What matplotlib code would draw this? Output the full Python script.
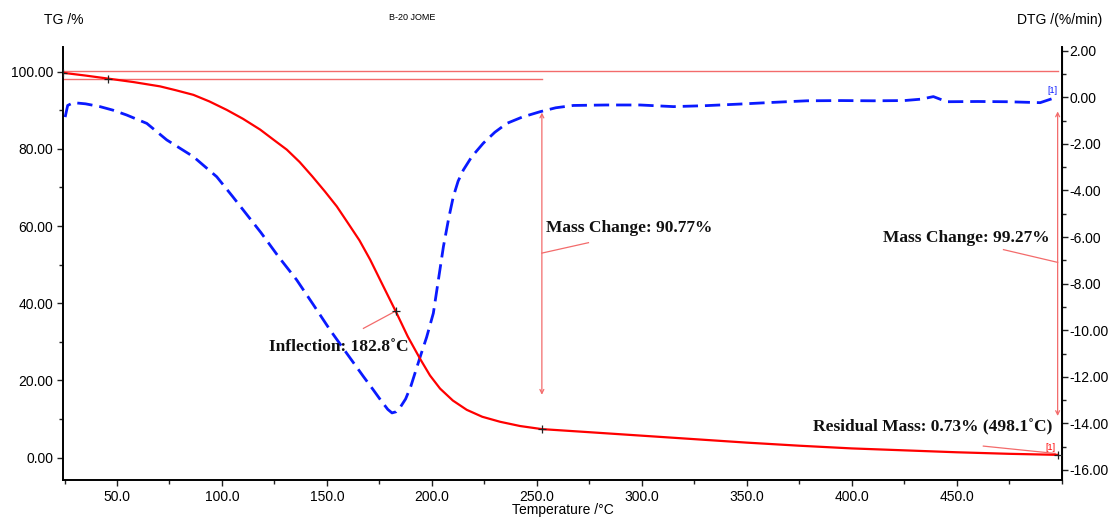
import numpy as np
import matplotlib.pyplot as plt
from matplotlib.ticker import MultipleLocator, FormatStrFormatter

# ------- TG curve (mass %, left axis) -------
tg_temp = [24.5, 35.0, 45.9, 58.0, 70.5, 78.0, 86.4, 94.0, 102.3, 110.0, 118.2, 125.0,
           130.9, 137.0, 143.0, 149.0, 154.7, 160.0, 165.5, 170.6, 176.5, 182.8, 188.5,
           194.4, 199.1, 203.9, 210.0, 216.6, 224.0, 232.5, 242.0, 252.4, 275.0, 300.0,
           325.0, 350.0, 375.0, 400.0, 425.0, 450.0, 475.0, 498.1]
tg_mass = [99.7, 99.0, 98.2, 97.3, 96.2, 95.2, 94.0, 92.3, 90.1, 87.8, 85.0, 82.2,
           79.8, 76.6, 72.9, 69.0, 65.1, 60.8, 56.3, 51.3, 44.8, 37.9, 31.4,
           25.6, 21.3, 17.9, 14.8, 12.4, 10.6, 9.3, 8.2, 7.4, 6.6, 5.7,
           4.8, 3.9, 3.1, 2.4, 1.9, 1.4, 1.0, 0.73]

# ------- DTG curve (%/min, right axis) -------
dtg_temp = [25.3, 26.5, 29.2, 35.0, 41.9, 48.0, 54.6, 64.2, 73.7, 86.4, 97.5, 105.0, 118.5,
            127.0, 135.6, 143.5, 151.5, 159.5, 167.4, 172.0, 176.0, 179.0, 181.0, 183.0,
            185.0, 187.5, 190.0, 194.4, 197.5, 200.7, 203.0, 205.5, 208.0, 210.2, 212.5,
            215.0, 219.0, 224.5, 230.0, 235.7, 243.0, 251.5, 259.0, 267.4, 283.0, 299.2,
            315.1, 330.0, 346.8, 362.0, 378.6, 395.0, 410.3, 425.0, 433.0, 438.9, 445.3,
            460.0, 473.9, 489.8, 496.1]
dtg_rate = [-0.85, -0.35, -0.23, -0.28, -0.40, -0.55, -0.76, -1.12, -1.83, -2.55, -3.41, -4.25, -5.80,
            -6.85, -7.84, -8.90, -9.99, -11.00, -11.99, -12.55, -13.05, -13.40, -13.55, -13.50,
            -13.30, -12.95, -12.40, -11.15, -10.30, -9.27, -7.90, -6.41, -5.20, -4.27, -3.60,
            -3.12, -2.55, -1.97, -1.50, -1.12, -0.85, -0.62, -0.45, -0.35, -0.33, -0.33,
            -0.40, -0.36, -0.29, -0.22, -0.15, -0.14, -0.15, -0.14, -0.08, 0.03, -0.19,
            -0.18, -0.19, -0.23, -0.04]

# marked points on the TG curve
mark_temp = [24.5, 45.9, 182.8, 252.4, 498.1]
mark_mass = [99.7, 98.2, 37.9, 7.4, 0.73]

inflection_temp = 182.8
step_temp = 252.4
end_temp = 498.1
mass_change_1 = 90.77
mass_change_2 = 99.27
residual_mass = 0.73

red = '#ff0000'
light_red = '#f36b6b'
blue = '#0a1aff'

plt.rcParams['font.family'] = ['Liberation Sans', 'DejaVu Sans']

fig = plt.figure(figsize=(11.1, 5.17), dpi=100)
ax = fig.add_axes([0.0568, 0.0716, 0.9, 0.8375])
ax2 = ax.twinx()

ax.set_xlim(24.3, 500.2)
ax.set_ylim(-5.78, 106.4)
ax2.set_ylim(-16.43, 2.16)

# DTG first so TG sits on top
ax2.plot(dtg_temp, dtg_rate, color=blue, lw=2.0, ls=(0, (5.5, 2.5)))
ax.plot(tg_temp, tg_mass, color=red, lw=1.6, zorder=3)
ax.plot(mark_temp, mark_mass, ls='none', marker='+', color='#222222', ms=6, mew=0.9, zorder=4)

ax.set_zorder(ax2.get_zorder() + 1)
ax.patch.set_visible(False)

# baselines
ax.plot([24.3, end_temp], [100.1, 100.1], color=light_red, lw=1.0)
ax.plot([24.3, step_temp], [98.2, 98.2], color=light_red, lw=1.0)

arrow = dict(arrowstyle='<->', color=light_red, lw=0.9, shrinkA=0, shrinkB=0,
             mutation_scale=7)
ax.annotate('', xy=(step_temp, 89.4), xytext=(step_temp, 16.3), arrowprops=arrow)
ax.annotate('', xy=(end_temp, 89.7), xytext=(end_temp, 10.8), arrowprops=arrow)

lead = dict(color=light_red, lw=0.9)
ax.plot([step_temp, 274.6], [53.0, 55.7], **lead)
ax.plot([472.3, end_temp], [53.9, 50.6], **lead)
ax.plot([167.4, inflection_temp], [33.5, 38.0], **lead)
ax.plot([462.7, 496.9], [3.0, 1.1], **lead)

label_font = dict(family=['Liberation Serif', 'DejaVu Serif'], fontsize=12.5,
                  fontweight='bold', color='#111111')
ax.text(254.4, 59.6, f'Mass Change: {mass_change_1:.2f}%', ha='left', va='center', **label_font)
ax.text(494.5, 57.0, f'Mass Change: {mass_change_2:.2f}%', ha='right', va='center', **label_font)
ax.text(122.6, 28.8, f'Inflection: {inflection_temp:.1f}˚C', ha='left', va='center', **label_font)
ax.text(495.5, 8.0, f'Residual Mass: {residual_mass:.2f}% ({end_temp:.1f}˚C)',
        ha='right', va='center', **label_font)

ax2.text(495.5, 0.12, '[1]', color=blue, fontsize=6.5, ha='center', va='bottom')
ax.text(494.5, 1.4, '[1]', color=red, fontsize=6.5, ha='center', va='bottom')

# axes styling
ax.spines['top'].set_visible(False)
ax2.spines['top'].set_visible(False)
for s in ['left', 'bottom']:
    ax.spines[s].set_linewidth(1.4)
ax2.spines['right'].set_linewidth(1.4)
ax2.spines['left'].set_visible(False)
ax2.spines['bottom'].set_visible(False)

ax.xaxis.set_major_locator(MultipleLocator(50))
ax.xaxis.set_minor_locator(MultipleLocator(25))
ax.xaxis.set_major_formatter(FormatStrFormatter('%.1f'))
ax.yaxis.set_major_locator(MultipleLocator(20))
ax.yaxis.set_minor_locator(MultipleLocator(10))
ax.yaxis.set_major_formatter(FormatStrFormatter('%.2f'))
ax2.yaxis.set_major_locator(MultipleLocator(2))
ax2.yaxis.set_minor_locator(MultipleLocator(1))
ax2.yaxis.set_major_formatter(FormatStrFormatter('%.2f'))

ax.tick_params(which='both', direction='out', labelsize=10, width=1.0, color='#222222')
ax.tick_params(which='major', length=4)
ax.tick_params(which='minor', length=3)
ax.tick_params(axis='y', pad=3)
ax.tick_params(axis='x', pad=3)
ax2.tick_params(which='both', direction='out', labelsize=10, width=1.0, color='#222222', pad=1.5)
ax2.tick_params(which='major', length=4)
ax2.tick_params(which='minor', length=3)
ax.set_xticks([50, 100, 150, 200, 250, 300, 350, 400, 450])

fig.text(0.057, 0.961, 'TG /%', ha='center', va='center', fontsize=10)
fig.text(0.955, 0.961, 'DTG /(%/min)', ha='center', va='center', fontsize=10)
fig.text(0.371, 0.967, 'B-20 JOME', ha='center', va='center', fontsize=6.5)
fig.text(0.507, 0.013, 'Temperature /°C', ha='center', va='center', fontsize=10)

fig.savefig('out.png', dpi=100)
